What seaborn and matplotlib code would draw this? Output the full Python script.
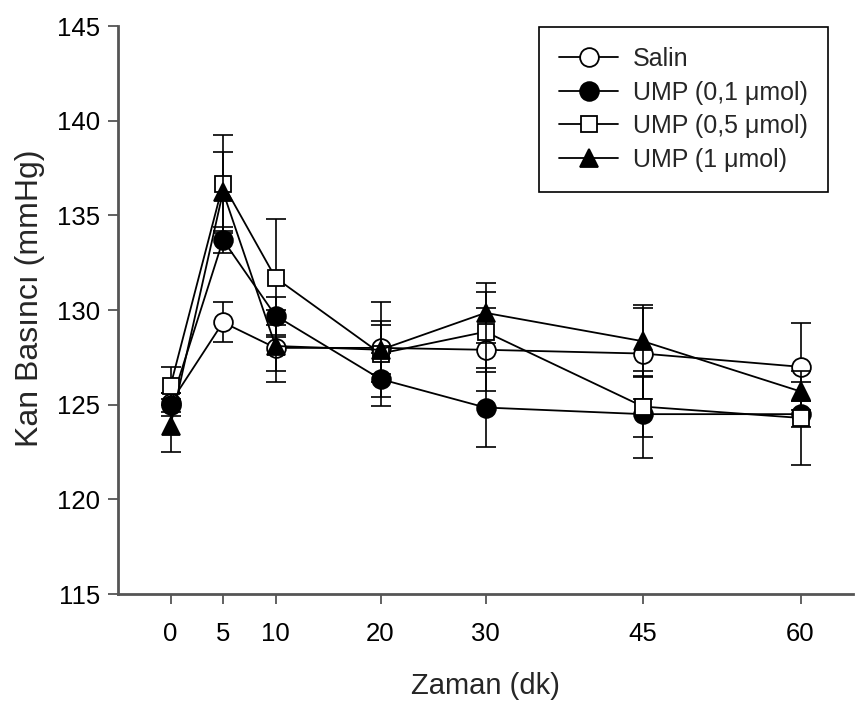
import matplotlib
matplotlib.use("Agg")
import matplotlib.pyplot as plt
import seaborn as sns
import numpy as np
import pandas as pd

# Blood pressure over time for each treatment group (mean ± SE)
time = [0, 5, 10, 20, 30, 45, 60]

salin = [125.1, 129.35, 128.0, 128.0, 127.9, 127.7, 127.0]
salin_se = [0.5, 1.05, 1.2, 1.4, 2.2, 2.4, 2.3]

ump01 = [125.0, 133.7, 129.7, 126.35, 124.85, 124.5, 124.5]
ump01_se = [0.6, 0.7, 1.0, 1.4, 2.1, 2.3, 0.7]

ump05 = [126.0, 136.65, 131.7, 127.7, 128.85, 124.9, 124.3]
ump05_se = [1.0, 2.6, 3.1, 1.5, 2.1, 1.6, 2.5]

ump1 = [123.9, 136.25, 128.1, 127.9, 129.85, 128.35, 125.7]
ump1_se = [1.4, 2.1, 1.9, 2.5, 1.6, 1.9, 0.5]

labels = ["Salin", "UMP (0,1 \u03bcmol)", "UMP (0,5 \u03bcmol)", "UMP (1 \u03bcmol)"]
y_ticks = [115, 120, 125, 130, 135, 140, 145]

sns.set_theme(style="ticks")
plt.rcParams["font.family"] = ["Liberation Sans", "DejaVu Sans"]

fig = plt.figure(figsize=(8.66, 7.07), dpi=100)
ax = fig.add_axes([0.1363, 0.1598, 0.8487, 0.8034])

groups = [
    (salin, salin_se, "o", "white", 13.5),
    (ump01, ump01_se, "o", "black", 13.5),
    (ump05, ump05_se, "s", "white", 12),
    (ump1, ump1_se, "^", "black", 13),
]

for i, ((vals, se, mk, fc, ms), lab) in enumerate(zip(groups, labels)):
    df = pd.DataFrame({"t": time, "bp": vals})
    base = 3 + 3 * i
    ax.errorbar(time, vals, yerr=se, fmt="none", ecolor="black",
                elinewidth=1.2, capsize=7, capthick=1.2, zorder=base)
    sns.lineplot(data=df, x="t", y="bp", ax=ax, color="black", lw=1.3,
                 marker=mk, markersize=ms, markerfacecolor=fc,
                 markeredgecolor="black", markeredgewidth=1.3,
                 label=lab, zorder=base + 1, errorbar=None)

ax.set_xlim(-5, 65)
ax.set_ylim(115, 145)
ax.set_xticks(time)
ax.set_yticks(y_ticks)
ax.tick_params(axis="both", labelsize=18.5, length=7, width=1.3,
               color="#555555", labelcolor="black", direction="out")
ax.tick_params(axis="x", pad=13)
ax.tick_params(axis="y", pad=6)

for side in ["top", "right"]:
    ax.spines[side].set_visible(False)
for side in ["left", "bottom"]:
    ax.spines[side].set_color("#555555")
    ax.spines[side].set_linewidth(2)

ax.set_xlabel("Zaman (dk)", fontsize=21, labelpad=19)
ax.set_ylabel("Kan Bas\u0131nc\u0131 (mmHg)", fontsize=23)
ax.yaxis.set_label_coords(-0.1, 0.52)

leg = ax.legend(loc="upper right", bbox_to_anchor=(0.966, 0.998),
                borderaxespad=0, fontsize=18, frameon=True, fancybox=False,
                handlelength=2.35, handletextpad=0.6, labelspacing=0.38,
                borderpad=0.8, edgecolor="black", framealpha=1)
leg.get_frame().set_linewidth(1.2)

fig.savefig("out.png", dpi=100, facecolor="white")
